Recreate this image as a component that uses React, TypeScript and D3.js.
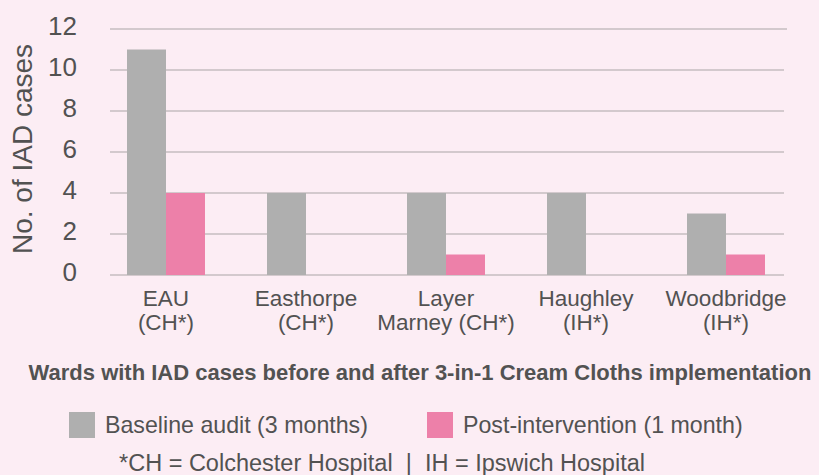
import React from "react";
import * as d3 from "d3";

const categories = ["EAU", "Easthorpe", "Layer Marney", "Haughley", "Woodbridge"];
const categoryLines = [
  ["EAU", "(CH*)"],
  ["Easthorpe", "(CH*)"],
  ["Layer", "Marney (CH*)"],
  ["Haughley", "(IH*)"],
  ["Woodbridge", "(IH*)"],
];
const seriesNames = ["Baseline audit (3 months)", "Post-intervention (1 month)"];
const baselineValues = [11, 4, 4, 4, 3];
const postValues = [4, 0, 1, 0, 1];
const yTicks = [0, 2, 4, 6, 8, 10, 12];
const colors = ["#afafaf", "#ed80a9"];

const W = 819;
const H = 475;
const FONT = "'Liberation Sans', Arial, Helvetica, sans-serif";
const TEXT = "#525252";

export default function App() {
  const x = d3
    .scaleBand<string>()
    .domain(categories)
    .range([96, 796])
    .paddingInner(0.443)
    .paddingOuter(0.2215);
  const x1 = d3.scaleBand<string>().domain(["b", "p"]).range([0, x.bandwidth()]);
  const y = d3.scaleLinear().domain([0, 12]).range([275, 29]);
  const series = [baselineValues, postValues];

  return (
    <svg
      width={W}
      height={H}
      style={{ position: "absolute", left: 0, top: 0, background: "#fcedf4" }}
      fontFamily={FONT}
    >
      <rect x={0} y={0} width={W} height={H} fill="#fcedf4" />
      {yTicks.map((t) => (
        <g key={t}>
          <line
            x1={110}
            x2={t === 12 ? 787 : 784}
            y1={y(t)}
            y2={y(t)}
            stroke="#c6bcc1"
            strokeWidth={1.5}
          />
          <text
            x={77}
            y={y(t) - 3}
            textAnchor="end"
            dominantBaseline="central"
            fontSize={26}
            fill={TEXT}
          >
            {t}
          </text>
        </g>
      ))}
      <text
        transform={`translate(32,149) rotate(-90)`}
        textAnchor="middle"
        fontSize={28}
        fill={TEXT}
      >
        No. of IAD cases
      </text>
      {categories.map((c, i) =>
        series.map((vals, s) => {
          const v = vals[i];
          if (v <= 0) return null;
          return (
            <rect
              key={c + s}
              x={(x(c) as number) + (x1(s === 0 ? "b" : "p") as number)}
              y={y(v)}
              width={x1.bandwidth()}
              height={y(0) - y(v)}
              fill={colors[s]}
            />
          );
        })
      )}
      {categories.map((c, i) => (
        <text
          key={c}
          x={(x(c) as number) + x.bandwidth() / 2}
          textAnchor="middle"
          fontSize={22.5}
          fill={TEXT}
        >
          {categoryLines[i].map((l, j) => (
            <tspan key={j} x={(x(c) as number) + x.bandwidth() / 2} y={306 + j * 24}>
              {l}
            </tspan>
          ))}
        </text>
      ))}
      <text x={420} y={380} textAnchor="middle" fontSize={22} fontWeight="bold" fill={TEXT}>
        Wards with IAD cases before and after 3-in-1 Cream Cloths implementation
      </text>
      {seriesNames.map((n, s) => {
        const lx = s === 0 ? 69 : 427;
        return (
          <g key={n}>
            <rect x={lx} y={412} width={26} height={26} fill={colors[s]} />
            <text x={lx + 36} y={433} fontSize={23.2} fill={TEXT}>
              {n}
            </text>
          </g>
        );
      })}
      <text x={382} y={471} textAnchor="middle" fontSize={23.5} fill={TEXT}>
        {"*CH = Colchester Hospital \u00a0|\u00a0 IH = Ipswich Hospital"}
      </text>
    </svg>
  );
}
